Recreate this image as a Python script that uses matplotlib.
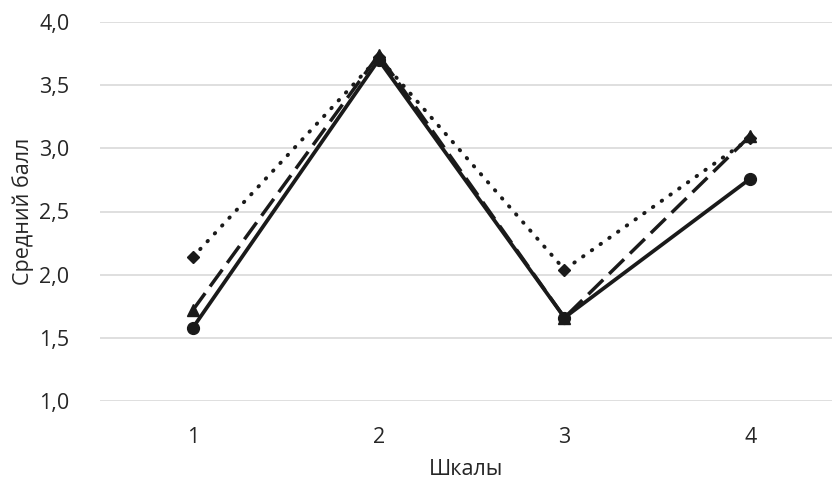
import matplotlib
matplotlib.use('Agg')
import matplotlib.pyplot as plt
from matplotlib.ticker import FuncFormatter

plt.rcParams['font.family'] = ['Open Sans', 'DejaVu Sans']

scales = [1, 2, 3, 4]
series_solid = [1.58, 3.70, 1.66, 2.76]
series_dashed = [1.72, 3.74, 1.66, 3.10]
series_dotted = [2.14, 3.72, 2.04, 3.08]

fig = plt.figure(figsize=(8.32, 4.83), dpi=100)
ax = fig.add_axes([100 / 832, 82 / 483, 732 / 832, 379 / 483])

c = '#1a1a1a'
ax.plot(scales, series_dotted, linestyle=(0, (0.15, 2.6)), dash_capstyle='round',
        color=c, lw=2.8, marker='D', ms=6.5)
ax.plot(scales, series_dashed, linestyle=(0, (6, 2.4)), color=c, lw=2.5,
        marker='^', ms=8)
ax.plot(scales, series_solid, linestyle='-', color=c, lw=2.7, marker='o', ms=8.5)

ax.set_xlim(0.5, 4.44)
ax.set_ylim(1.0, 4.0)
ax.set_xticks(scales)
ax.set_yticks([1.0, 1.5, 2.0, 2.5, 3.0, 3.5, 4.0])
ax.yaxis.set_major_formatter(FuncFormatter(lambda v, p: f'{v:.1f}'.replace('.', ',')))
ax.grid(axis='y', color='#d9d9d9', lw=1.2)
ax.set_axisbelow(True)
for s in ax.spines.values():
    s.set_visible(False)
ax.tick_params(length=0, labelsize=15.5, colors='#262626')
ax.tick_params(axis='y', pad=22)
ax.tick_params(axis='x', pad=19)

ax.set_xlabel('Шкалы', fontsize=15.5, color='#262626', labelpad=7.5)
ax.set_ylabel('Средний балл', fontsize=15.5, color='#262626', labelpad=4)

fig.savefig('out.png', dpi=100)
